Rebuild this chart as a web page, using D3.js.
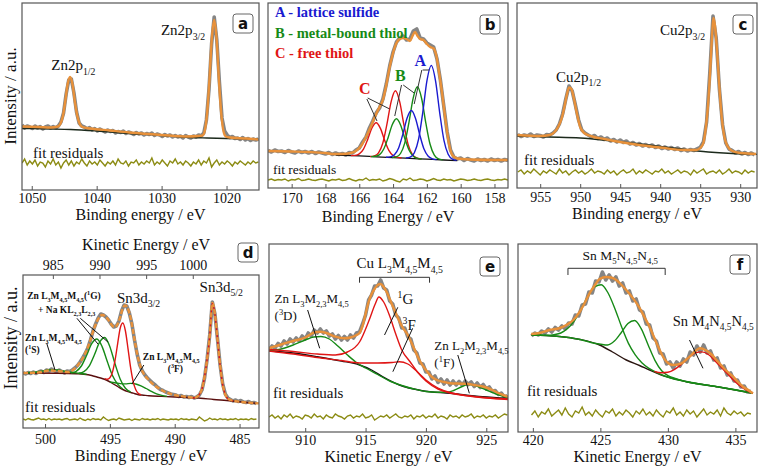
<!DOCTYPE html>
<html><head><meta charset="utf-8">
<script src="https://cdn.jsdelivr.net/npm/d3@7"></script>
<style>
body{margin:0;background:#fff}
svg{display:block}
text{font-family:"Liberation Serif","DejaVu Serif","Noto Serif",serif !important;fill:#111}
text.sans{font-family:"DejaVu Sans","Liberation Sans",Arial,sans-serif !important}
</style>
</head><body>
<svg id="chart" width="760" height="468" font-family="Liberation Serif"></svg>
<script>
// ---------------- DATA (intensities in a.u., energies in eV) ----------------
// Panel a : Zn 2p
const aTicks = [1050, 1040, 1030, 1020];
const aRawStart = 1051.5, aRawStep = -0.4;
const aRaw = [65,62,64,63,61.5,64,62,63.5,61,63,64,62,63.5,62,64,68,77,96,110,111,97,78,67,64,63,61,62.5,60,61.5,59,61,59.5,58,60,58.5,59.5,57,58.5,57.5,59,56.5,58,57,55.5,57.5,56,57,55,56.5,55.5,57,54.5,56,55,53.5,55.5,54,55,53,54.5,53,54,52,54.5,53,52,54,53,55,54,57,70,101,146,173,150,108,72,59,55,52.5,53.5,51.5,52,50.5,52.5,50,51.5,49.5,51,50,51];
const aFit = [[1051.5,63.5],[1049,63],[1047,62.5],[1046,63.5],[1045.6,66],[1045.2,74],[1044.85,88],[1044.47,106],[1044.1,113],[1043.73,106],[1043.35,88],[1042.98,74],[1042.6,66],[1042.2,63],[1041,61.5],[1038,59.5],[1035,57.5],[1030,55],[1026,53.5],[1024.4,54],[1023.7,54.5],[1023.34,59.5],[1022.98,77.5],[1022.62,111.5],[1022.26,152],[1021.9,170],[1021.54,152],[1021.18,111],[1020.82,77],[1020.46,58.5],[1020.1,53.5],[1019.5,52.5],[1017,51.5],[1015.1,50.5]];
const aBackground = [[1051.5,61.5],[1047,61],[1044,60.5],[1040,59],[1035,56.5],[1030,54.5],[1027,53],[1023,52],[1020,51.5],[1015.1,51]];
const aResidual = [27,31,25,29,26,30,24,28,27,23,29,26,31,25,28,22,27,30,25,29,24,28,26,31,27,24,29,26,28,25,30,27,24,28,26,29,25,31,27,26,29,24,28,27,30,25,28,26,29,27,32,25,28,26,30,27,24,29,27,31,26,28,25,29,27,24,28,26,30,25,29,27,32,23,27,30,25,28,26,29,27,24,28,26,29,27,25,28,26,29,27,28];

// Panel b : S 2p
const bTicks = [170, 168, 166, 164, 162, 160, 158];
const bRawStart = 171.4, bRawStep = -0.2;
const bRaw = [37.5,36,38,36.5,37,35.5,37.5,36,35,37,35.5,36.5,35,36.5,34.5,36,35,34,35.5,33.5,35,33.5,34.5,33,35.5,35,38,40,46,51,60,67,75,80,89,104,122,136,146,150,152,148,149,157,159,150,149,145,143,141,129,108,82,56,38,31,29,30,27.5,29.5,28,27,29,27.5,28.5,27,29,27.5,28.5,27,28.5,27.5];
const bFit = [[171.4,37],[170,36.5],[169,36],[168,35],[167.5,34],[167,34],[166.5,35],[166.2,37],[165.9,42],[165.6,51],[165.3,62],[165.0,74],[164.8,81],[164.6,88],[164.4,103],[164.2,121],[164.0,135],[163.8,145],[163.6,149],[163.4,150],[163.2,149],[163.0,147],[162.85,152],[162.7,156],[162.55,152],[162.4,149],[162.2,148],[162.0,144],[161.8,141],[161.6,139.5],[161.45,133],[161.3,118],[161.1,95],[160.9,68],[160.7,45],[160.5,33],[160.2,29.5],[159.5,28.5],[158,28],[157.2,28]];
const bBackground = [[167.4,33],[166,32.1],[165,31.2],[164,30.4],[163,29.6],[162,28.8],[161,28.0],[160.2,27.4]];
const bLatticeA1 = [[160.24,27.6],[160.49,28.8],[160.74,33.7],[160.99,47.7],[161.24,75.2],[161.49,107.4],[161.74,122.6],[161.99,107.8],[162.24,76],[162.49,48.9],[162.74,35.3],[162.99,30.8],[163.24,30]];
const bLatticeA2 = [[161.42,28.4],[161.67,29.1],[161.92,31.7],[162.17,38.9],[162.42,53.1],[162.67,69.6],[162.92,77.5],[163.17,70],[163.42,53.9],[163.67,40.1],[163.92,33.3],[164.17,31.1],[164.42,30.8]];
const bBoundB1 = [[161.06,28.1],[161.31,29.1],[161.56,32.9],[161.81,43.7],[162.06,64.8],[162.31,89.5],[162.56,101.2],[162.81,89.9],[163.06,65.6],[163.31,44.9],[163.56,34.5],[163.81,31.1],[164.06,30.5]];
const bBoundB2 = [[162.3,29.0],[162.55,29.7],[162.8,31.8],[163.05,37.8],[163.3,49.3],[163.55,62.8],[163.8,69.2],[164.05,63.2],[164.3,50.1],[164.55,39],[164.8,33.4],[165.05,31.7],[165.3,31.4]];
const bFreeC1 = [[162.36,29.0],[162.61,30.1],[162.86,33.6],[163.11,43.6],[163.36,63.3],[163.61,86.3],[163.86,97.2],[164.11,86.7],[164.36,64.1],[164.61,44.8],[164.86,35.2],[165.11,32.1],[165.36,31.4]];
const bFreeC2 = [[163.5,30.0],[163.75,30.6],[164.0,32.5],[164.25,37.7],[164.5,47.8],[164.75,59.6],[165.0,65.2],[165.25,60],[165.5,48.6],[165.75,38.9],[166.0,34.1],[166.25,32.6],[166.5,32.4]];
const bResidual = [8,9,7.5,8.5,8,9,7,8.5,8,9.5,7.5,8,9,8,7.5,8.5,9,8,7,8.5,8,9,7.5,8,9.5,8,7,8.5,8,10,7.5,8.5,8,9,7,8,9.5,8.5,7,6,9,8,10,7.5,8,9,8.5,7,8,9.5,8,7.5,9,8,8.5,7,8,9,8.5,7.5,8,9,8,7.5,8.5,9,8,7.5,8.5,8,9,8];
const bLegend = ["A - lattice sulfide", "B - metal-bound thiol", "C - free thiol"];

// Panel c : Cu 2p
const cTicks = [955, 950, 945, 940, 935, 930];
const cRawStart = 957.8, cRawStep = -0.4;
const cRaw = [53.5,51.5,53,52,54,51.5,53,52.5,51,53.5,53,55,58,64,74,89,102,97,83,68,58,55,53,51,52.5,49.5,51,48.5,50,47,48.5,46,48,45.5,47,44,45.5,43,44.5,42,43.5,41.5,43,40.5,42,39.5,41,39,40.5,38.5,40,37.5,39,37,38.5,37.5,39,40.5,46,66,115,172,150,99,63,45,39,37.5,35,36.5,34,35.5,33.5,35,33];
const cFit = [[957.9,53],[955,52],[953.8,53],[953.2,56],[952.7,62],[952.3,70],[952.0,80],[951.7,92],[951.4,100.5],[951.1,99],[950.8,90],[950.4,74],[950.0,61],[949.5,55],[948.5,51.5],[947,49],[945,46],[943,43.5],[940,40.5],[937,38],[935.5,38],[935,40],[934.6,45],[934.3,60],[934.0,85],[933.7,125],[933.5,155],[933.35,170],[933.2,165],[932.9,138],[932.6,100],[932.3,70],[932.0,52],[931.6,42],[931.0,37],[930,35],[928,34]];
const cBackground = [[957.9,52],[954,51],[950,50],[946,47],[942,43.5],[938,39.5],[934,36],[931,34.5],[927.9,33.7]];
const cResidual = [16,18,14,17,15,19,16,13,17,15,18,16,14,19,15,17,13,16,18,15,17,14,16,19,15,17,16,14,18,15,17,13,16,18,15,16,19,14,17,15,18,16,14,17,16,19,15,17,14,16,18,15,17,16,13,18,15,17,19,14,16,17,15,18,14,16,19,15,17,16,14,18,15,17,16];

// Panel d : Sn 3d + Zn LMM
const dTicks = [500, 495, 490, 485];
const dKineticTicks = [985, 990, 995, 1000];
const dRawStart = 501.7, dRawStep = -0.2;
const dRaw = [55.5,54,55.5,54.5,56,54.5,56,57,55.5,58,57,59,57.5,56,58,56.5,55,57,56.5,58,60,62.5,66,70,74.5,80,88,97,104,110,114,113,111,108,104,101,102,107,117,123,122,115,104,88,74,63,57,53,50,47.5,45,43,40.5,38.5,37.5,36,35,34,33.5,33,31.5,32.5,31,31.5,30.5,31.5,30,31,33,38,50,69,93,126,114,89,63,44,34,30,28.5,27,28,26.5,27.5,26,25.5,26.5,25,25.5,24.5];
const dFit = [[501.7,55],[500.5,55.5],[499.6,57.5],[499.0,57],[498.2,56],[497.8,58.5],[497.4,64],[497.0,72],[496.6,84],[496.2,100],[495.9,109],[495.6,113],[495.3,111],[495.0,106],[494.8,102],[494.6,101],[494.4,104],[494.2,111],[494.0,120],[493.8,122.5],[493.6,119],[493.4,110],[493.2,96],[493.0,81],[492.8,68.5],[492.6,60],[492.4,54.5],[492.0,48],[491.6,43],[491.2,39.5],[490.8,36.5],[490.4,34.5],[490.0,33],[489.0,31],[488.5,30.3],[488.3,31],[488.1,33.5],[487.9,39],[487.7,51],[487.5,69],[487.3,92],[487.1,125],[486.9,114],[486.7,89],[486.5,63],[486.3,43.5],[486.1,33.5],[485.9,29.5],[485.7,28],[485.0,26.3],[484.0,25],[483.5,24.6]];
const dBackground = [[501.7,55],[499,54.8],[497.6,54.3],[497.0,53.8],[496.4,52.5],[496.0,51],[495.6,49.5],[495.2,47.5],[494.8,44.5],[494.4,41.5],[494.0,38.5],[493.6,36.3],[493.2,34.8],[492.8,33.3],[492.4,32.8],[492.0,32.3],[491.0,31.6],[490.0,31],[489.0,30.5],[488.0,29.8],[487.0,28.5],[486.0,27.5],[485.0,26.3],[484.0,25],[483.5,24.6]];
const dSn3d52 = [[488.7,30.1],[488.5,30.2],[488.3,31],[488.1,33.3],[487.9,38.8],[487.7,50.8],[487.5,68.8],[487.3,91.8],[487.1,125],[486.9,113.8],[486.7,88.8],[486.5,62.8],[486.3,43.3],[486.1,33.3],[485.9,29.3],[485.7,27.8],[485.5,27.3]];
const dSn3d32 = [[495.4,49.3],[495.2,48.7],[495.0,50.2],[494.8,55.9],[494.6,67.8],[494.4,84.4],[494.2,100],[494.0,105],[493.8,97],[493.6,79.2],[493.4,60.3],[493.2,46.2],[493.0,38.2],[492.8,34.5],[492.6,33.3]];
const dZn1G = [[498.0,55.0],[497.6,56.7],[497.2,62],[496.8,72.5],[496.4,84.4],[496.0,89],[495.6,81.4],[495.2,66.5],[494.8,52.5],[494.4,43.9],[494.0,39]];
const dNaKLL = [[497.4,54.7],[497.0,56.4],[496.6,61.8],[496.2,73],[495.8,85.6],[495.4,90.5],[495.0,81.3],[494.6,64],[494.2,48.8],[493.8,39.8],[493.4,36]];
const dZn1S = [[501.4,55.2],[500.8,55.8],[500.2,57],[499.8,58],[499.4,58.4],[499.0,58],[498.6,57],[498.0,55.8],[497.4,54.8],[496.8,53.8]];
const dZn3F = [[495.0,46],[494.6,45.3],[494.2,44.4],[493.8,44.1],[493.4,44.6],[493.0,44],[492.6,42.1],[492.2,39.5],[491.8,36.6],[491.4,34.2],[491.0,32.6],[490.6,31.6]];
const dResidual = [9,8,9.5,8.5,8,9,10,8.5,9,8,9.5,8,9,8.5,9,8,9,9.5,8,8.5,9,8,10,8.5,7.5,9,8,9.5,8.5,9,8,11,9,7.5,8.5,9,8,10,9,8,8.5,9,7.5,9,8.5,8,9.5,8.5,9,8,9,8.5,9.5,8,9,8.5,8,9,8.5,9,8,9.5,8.5,9,8,9,8.5,8,11,9,7,8,10,8.5,9,8,9.5,8.5,9,8,9,8.5,9.5,8,9,8.5,9,8,9.5,8.5,9];

// Panel e : Cu LMM
const eTicks = [910, 915, 920, 925];
const eRawStart = 907.0, eRawStep = 0.25;
const eRaw = [82,86,84,88.5,86,91,88,93,90,94,91,96,93,99,96,102,99,103,99,101,96,98,93,96.5,92,95.5,92,97,94,99,100,108,117,132,137,146,146,152,144,142,131,128,117,114,104,104,95,93,82,79,69,68,60,60,53,56,49.5,53,48,52,47,51,47,50.5,47,51,47.5,50,45.5,49,44.5,47.5,43,45,40.5,41.5,37.5,39,35,36.5];
const eFit = [[907,83.7],[908,87.5],[909,91],[910,94.5],[910.75,99.5],[911.25,100.3],[911.75,99],[912.5,95.3],[913.25,93.7],[913.75,94.5],[914.25,97],[914.5,99],[914.75,106],[915,118],[915.25,130],[915.5,138],[915.75,143],[916,147],[916.25,148],[916.5,145],[916.75,140],[917,133],[917.5,119],[918,106],[918.5,97],[919,84],[919.5,71],[920,62],[920.5,55],[921,51.5],[921.5,50],[922,48.7],[923,48.3],[923.5,48],[924,47],[924.5,46],[925,44.5],[925.5,42],[926,39],[926.5,36.5],[926.8,35.3]];
const eBackground = [[907,81.3],[909,79],[911,75.3],[913,71],[914.5,67],[915.5,62],[916.4,55.3],[917.8,47],[919.7,41.3],[922,38.7],[924.7,35.3],[926.8,33.7]];
const eZnLMM = [[907,81.5],[908,83],[909,87],[910,92],[910.7,95],[911.3,95.5],[912,93],[912.7,86],[913.5,77],[914.3,69],[915,64],[916,57.5],[917,51],[918,46.5],[919,43],[920,40.5],[921,39.8],[921.7,39.8],[922.3,41.5],[923,45.5],[923.5,47.5],[924.2,46],[925,42],[925.8,38],[926.8,34.5]];
const eCu1G = [[907,82.5],[909,80.5],[911,78],[912.5,77],[913.5,80],[914.5,90],[915.3,112],[915.8,128],[916.1,135],[916.5,130],[917,116],[917.5,98],[918,82],[918.7,70],[919.3,60],[920,51],[921,43],[922,39],[924,35.5],[926.8,33]];
const eCu3F = [[907,81],[909,78],[911,74.5],[913,71.5],[914.5,69],[916,69],[917.2,69.5],[917.8,70.3],[918.5,68],[919.3,60],[920,52],[921,44],[922,39.5],[923,37],[925,34],[926.8,32.5]];
const eResidual = [15,17,14,16,13,17,15,18,14,16,15,13,17,16,14,18,15,16,13,17,15,14,18,16,15,13,16,17,14,16,15,18,14,15,17,12,14,16,15,17,14,16,18,15,14,16,15,17,13,16,15,17,14,16,15,18,14,16,15,13,17,15,16,14,17,15,16,18,14,16,15,17,14,16,15,17,14,16,18,17];

// Panel f : Sn MNN
const fTicks = [420, 425, 430, 435];
const fRawStart = 419.9, fRawStep = 0.25;
const fRaw = [96,99,97,101,99,103,100,104.5,102,106,103,109,108,117,116,127,128,140,139,151,150,160,152,157,151,155,146,149,139,141,131,133,122,120,108,107,94,91,79,78,68,70,64,70,66,73,70,80,77,86,80,87,79,81,72,74,64,66,57,59,51,52,45,46,40,41];
const fFit = [[419.88,98],[420.5,99],[421.24,102],[422.0,104],[422.48,107],[423.0,112],[423.46,120],[423.8,128],[424.2,138.7],[424.6,147],[424.94,153],[425.44,155],[425.8,154.5],[426.18,152],[426.5,148],[426.92,142],[427.4,134],[427.91,124],[428.3,114],[428.65,105],[429.0,94],[429.39,82],[429.65,75],[429.89,70.5],[430.38,67],[431.0,68.7],[431.37,72.5],[431.74,77],[432.0,80.5],[432.36,83.7],[432.85,81.5],[433.2,78],[433.6,72],[434.2,63],[434.83,55.3],[435.2,50],[435.57,45.3],[436.0,41.5],[436.3,38.7]];
const fBackground = [[419.9,97],[421,96.5],[422.48,94.7],[423.5,92.5],[424.94,87],[425.9,80],[426.92,72],[427.9,66.5],[428.65,62],[429.89,55.3],[431.37,50.3],[433.6,45.3],[435,42],[436.3,38.7]];
const fM5a = [[419.9,97],[421.07,96.8],[421.57,97.4],[422.07,99],[422.57,103.4],[423.07,111.2],[423.57,122.7],[424.07,135.3],[424.57,145],[425.07,147.3],[425.57,139],[426.07,123.6],[426.57,105.3],[427.07,88.9],[427.57,77.4],[428.07,69.3],[428.57,63.9],[429.07,60.1],[429.57,57],[431.37,50.3],[433.6,45.3],[435,42],[436.3,38.7]];
const fM5b = [[419.9,97],[421,96.5],[422.48,94.7],[423.5,92.5],[424.54,88.8],[425.04,87.7],[425.54,87],[426.04,90.9],[426.54,99.3],[427.04,108.4],[427.54,111.5],[428.04,102.9],[428.54,87],[429.04,71.7],[429.54,61.3],[430.04,56.2],[430.54,53.5],[431.37,50.5],[433.6,45.5],[435,42.2],[436.3,38.9]];
const fM4 = [[429.0,60.7],[429.5,59.2],[430.0,59.7],[430.5,62.6],[431.0,67.8],[431.5,73.9],[432.0,78.8],[432.5,80.1],[433.0,77.5],[433.5,71],[434.0,64],[434.5,57],[435.0,50],[435.5,44.5],[436.0,40.5],[436.3,39]];
const fResidual = [17,21,15,20,18,23,16,19,22,17,24,18,15,21,19,25,17,20,16,22,18,15,21,19,23,16,20,17,22,19,15,21,18,23,17,20,16,22,18,15,21,19,24,17,20,16,22,18,21,15,19,23,17,20,18,22,16,24,19,17,21,18,20,16,19,18];

// ---------------- STYLE / LAYOUT ----------------
const C = {raw:"#858585", fit:"#e8913a", res:"#8c8c14", blue:"#1a1ad0", green:"#168a16", red:"#e01515", bg:"#1c2a1c", frame:"#555"};
const svg = d3.select("#chart");

function rich(sel, x, y, parts, size, opts = {}) {
  const t = sel.append("text").attr("x", x).attr("y", y).attr("font-size", size);
  if (opts.anchor) t.attr("text-anchor", opts.anchor);
  if (opts.weight) t.attr("font-weight", opts.weight);
  if (opts.fill) t.style("fill", opts.fill);
  let shift = 0;
  parts.forEach(p => {
    const txt = typeof p === "string" ? p : p[0];
    const kind = typeof p === "string" ? "n" : p[1];
    const target = kind === "sub" ? size * 0.3 : kind === "sup" ? -size * 0.38 : 0;
    const ts = t.append("tspan").attr("dy", target - shift).text(txt);
    if (kind !== "n") ts.attr("font-size", size * 0.65);
    shift = target;
  });
  return t;
}

function drawPanel(p) {
  const g = svg.append("g");
  const b = p.box;
  const x = d3.scaleLinear().domain(p.xDomain).range([b.x, b.x + b.w]);
  const y = d3.scaleLinear().domain([0, b.h]).range([b.y + b.h, b.y]);
  const clipId = "clip" + p.letter;
  svg.append("clipPath").attr("id", clipId).append("rect").attr("x", b.x).attr("y", b.y).attr("width", b.w).attr("height", b.h);
  const plot = g.append("g").attr("clip-path", `url(#${clipId})`);
  const smooth = d3.line().x(d => x(d[0])).y(d => y(d[1])).curve(d3.curveMonotoneX);
  const rawLine = d3.line().x((d, i) => x(p.raw.start + i * p.raw.step)).y(d => y(d));
  plot.append("path").attr("d", rawLine(p.res)).attr("fill", "none").attr("stroke", C.res).attr("stroke-width", 1.4);
  plot.append("path").attr("d", rawLine(p.raw.vals)).attr("fill", "none").attr("stroke", C.raw).attr("stroke-width", 3.6).attr("stroke-linejoin", "round");
  p.lines.forEach(l => {
    plot.append("path").attr("d", smooth(l.pts)).attr("fill", "none").attr("stroke", l.color).attr("stroke-width", l.width || 1.4);
  });
  const fp = plot.append("path").attr("d", smooth(p.fit)).attr("fill", "none").attr("stroke", C.fit).attr("stroke-width", 2.4);
  if (p.fitDash) fp.attr("stroke-dasharray", p.fitDash);
  g.append("rect").attr("x", b.x).attr("y", b.y).attr("width", b.w).attr("height", b.h).attr("fill", "none").attr("stroke", C.frame).attr("stroke-width", 1.2);
  const ax = g.append("g").attr("transform", `translate(0,${b.y + b.h})`)
    .call(d3.axisBottom(x).tickValues(p.ticks).tickFormat(d3.format("d")).tickSizeInner(-4).tickSizeOuter(0).tickPadding(p.tickPad));
  ax.select(".domain").remove();
  ax.selectAll("line").attr("stroke", C.frame);
  ax.selectAll("text").attr("font-size", 14).style("fill", "#111");
  g.append("text").attr("x", b.x + b.w / 2).attr("y", p.titleY).attr("text-anchor", "middle").attr("font-size", 16).text(p.title);
  g.append("text").attr("x", b.x + p.resLabel[0]).attr("y", b.y + b.h - p.resLabel[1]).attr("font-size", p.resLabel[2]).text("fit residuals");
  const lb = p.letterBox;
  g.append("rect").attr("x", lb[0]).attr("y", lb[1]).attr("width", 20).attr("height", 19).attr("rx", 3).attr("fill", "#fff").attr("stroke", "#666").attr("stroke-width", 1);
  g.append("text").attr("class", "sans").attr("x", lb[0] + 10).attr("y", lb[1] + 14.5).attr("text-anchor", "middle").attr("font-size", 15).attr("font-weight", "bold").text(p.letter);
  if (p.extra) p.extra(g, x, y);
}

function seg(g, x, y, a, b2, color = "#111") {
  g.append("line").attr("x1", x(a[0])).attr("y1", y(a[1])).attr("x2", x(b2[0])).attr("y2", y(b2[1])).attr("stroke", color).attr("stroke-width", 1);
}
function bracket(g, x, y, x0, x1, yy, drop) {
  g.append("path").attr("d", `M${x(x0)},${y(yy - drop)}V${y(yy)}H${x(x1)}V${y(yy - drop)}`).attr("fill", "none").attr("stroke", "#333").attr("stroke-width", 1);
}
const LMM45 = ["M", ["4,5", "sub"], "M", ["4,5", "sub"]];

drawPanel({
  letter: "a", box: {x: 22, y: 3, w: 237, h: 187}, xDomain: [1051.5, 1015], ticks: aTicks, tickPad: 3,
  title: "Binding energy / eV", titleY: 220, raw: {start: aRawStart, step: aRawStep, vals: aRaw}, res: aResidual,
  fit: aFit, lines: [{pts: aBackground, color: C.bg, width: 1.3}], resLabel: [11, 32, 15], letterBox: [233, 14],
  extra: (g, x, y) => {
    rich(g, x(1043.6), y(120), ["Zn2p", ["1/2", "sub"]], 15, {anchor: "middle"});
    rich(g, x(1026.7), y(155), ["Zn2p", ["3/2", "sub"]], 15, {anchor: "middle"});
  }
});
drawPanel({
  letter: "b", box: {x: 268, y: 3, w: 240, h: 185}, xDomain: [171.4, 157.2], ticks: bTicks, tickPad: 5,
  title: "Binding Energy / eV", titleY: 222, raw: {start: bRawStart, step: bRawStep, vals: bRaw}, res: bResidual,
  fit: bFit, resLabel: [5, 14, 13.5], letterBox: [480, 15],
  lines: [{pts: bBackground, color: "#111", width: 1.3},
    {pts: bFreeC2, color: C.red}, {pts: bFreeC1, color: C.red},
    {pts: bBoundB2, color: C.green}, {pts: bBoundB1, color: C.green},
    {pts: bLatticeA2, color: C.blue}, {pts: bLatticeA1, color: C.blue}],
  extra: (g, x, y) => {
    const cols = [C.blue, C.green, C.red];
    bLegend.forEach((t, i) => g.append("text").attr("x", 275).attr("y", 17 + i * 20.5).attr("font-size", 14.5).attr("font-weight", "bold").style("fill", cols[i]).text(t));
    g.append("text").attr("x", x(162.39)).attr("y", y(122.3)).attr("text-anchor", "middle").attr("font-size", 16).attr("font-weight", "bold").style("fill", C.blue).text("A");
    g.append("text").attr("x", x(163.57)).attr("y", y(107)).attr("text-anchor", "middle").attr("font-size", 16).attr("font-weight", "bold").style("fill", C.green).text("B");
    g.append("text").attr("x", x(165.67)).attr("y", y(93.7)).attr("text-anchor", "middle").attr("font-size", 16).attr("font-weight", "bold").style("fill", C.red).text("C");
    seg(g, x, y, [162.25, 118], [161.85, 118], "#333");
    seg(g, x, y, [162.3, 118], [162.75, 84], "#333");
    seg(g, x, y, [163.4, 103], [162.75, 95], "#333");
    seg(g, x, y, [163.5, 103], [163.9, 72], "#333");
    seg(g, x, y, [165.5, 90], [164.2, 79], "#333");
    seg(g, x, y, [165.55, 89], [164.95, 67], "#333");
  }
});
drawPanel({
  letter: "c", box: {x: 517, y: 3, w: 240, h: 185}, xDomain: [957.9, 927.9], ticks: cTicks, tickPad: 4,
  title: "Binding energy / eV", titleY: 219, raw: {start: cRawStart, step: cRawStep, vals: cRaw}, res: cResidual,
  fit: cFit, lines: [{pts: cBackground, color: C.bg, width: 1.3}], resLabel: [7, 23, 15], letterBox: [733, 15],
  extra: (g, x, y) => {
    rich(g, x(950.2), y(106.3), ["Cu2p", ["1/2", "sub"]], 15, {anchor: "middle"});
    rich(g, x(937.2), y(153), ["Cu2p", ["3/2", "sub"]], 15, {anchor: "middle"});
  }
});
drawPanel({
  letter: "d", box: {x: 23, y: 275, w: 236, h: 153}, xDomain: [501.7, 483.5], ticks: dTicks, tickPad: 6,
  title: "Binding Energy / eV", titleY: 461, raw: {start: dRawStart, step: dRawStep, vals: dRaw}, res: dResidual,
  fit: dFit, fitDash: "5,2", resLabel: [2, 16, 15], letterBox: [238, 243],
  lines: [{pts: dBackground, color: "#5a0f0f", width: 1.4},
    {pts: dZn1S, color: C.green}, {pts: dZn1G, color: C.green}, {pts: dNaKLL, color: C.green}, {pts: dZn3F, color: C.green},
    {pts: dSn3d32, color: C.red}, {pts: dSn3d52, color: C.red}],
  extra: (g, x, y) => {
    const top = d3.scaleLinear().domain([981.8, 1007.1]).range([23, 259]);
    const at = g.append("g").attr("transform", "translate(0,275)")
      .call(d3.axisTop(top).tickValues(dKineticTicks).tickFormat(d3.format("d")).tickSizeInner(-4).tickSizeOuter(0).tickPadding(5));
    at.select(".domain").remove();
    at.selectAll("line").attr("stroke", C.frame);
    at.selectAll("text").attr("font-size", 14).style("fill", "#111");
    g.append("text").attr("x", 146).attr("y", 250).attr("text-anchor", "middle").attr("font-size", 16).text("Kinetic Energy / eV");
    rich(g, x(494.46), y(125.3), ["Sn3d", ["3/2", "sub"]], 15);
    rich(g, x(488.08), y(136.3), ["Sn3d", ["5/2", "sub"]], 15);
    rich(g, x(501.38), y(129), ["Zn L", ["3", "sub"], ...LMM45, "(", ["1", "sup"], "G)"], 9.5, {weight: "bold"});
    rich(g, x(500.54), y(115), ["+ Na KL", ["2,3", "sub"], "L", ["2,3", "sub"]], 9.5, {weight: "bold"});
    rich(g, x(501.54), y(87), ["Zn L", ["3", "sub"], ...LMM45], 9.5, {weight: "bold"});
    rich(g, x(501.54), y(75), ["(", ["1", "sup"], "S)"], 9.5, {weight: "bold"});
    rich(g, x(492.46), y(68), ["Zn L", ["3", "sub"], ...LMM45], 9.5, {weight: "bold"});
    rich(g, x(490.54), y(56), ["(", ["3", "sup"], "F)"], 9.5, {weight: "bold"});
    seg(g, x, y, [497.54, 109.7], [495.92, 84]);
    seg(g, x, y, [497.28, 109.7], [495.15, 86]);
    seg(g, x, y, [499.87, 84.7], [499.23, 58]);
    seg(g, x, y, [492.38, 63], [493.3, 44]);
  }
});
drawPanel({
  letter: "e", box: {x: 269, y: 244, w: 239, h: 188}, xDomain: [907, 926.8], ticks: eTicks, tickPad: 3,
  title: "Kinetic Energy / eV", titleY: 462, raw: {start: eRawStart, step: eRawStep, vals: eRaw}, res: eResidual,
  fit: eFit, resLabel: [4, 34, 15], letterBox: [480, 257],
  lines: [{pts: eBackground, color: "#111", width: 1.4}, {pts: eZnLMM, color: C.green},
    {pts: eCu3F, color: C.red}, {pts: eCu1G, color: C.red}],
  extra: (g, x, y) => {
    rich(g, x(914.25), y(164), ["Cu L", ["3", "sub"], ...LMM45], 15);
    bracket(g, x, y, 914.5, 920.3, 154.7, 5.4);
    rich(g, x(907.46), y(129), ["Zn L", ["3", "sub"], "M", ["2,3", "sub"], "M", ["4,5", "sub"]], 13);
    rich(g, x(907.46), y(112), ["(", ["3", "sup"], "D)"], 13);
    seg(g, x, y, [910.2, 122], [911.2, 83.7]);
    rich(g, x(917.65), y(128), [["1", "sup"], "G"], 15);
    seg(g, x, y, [917.67, 124.7], [916.57, 97]);
    rich(g, x(918.06), y(102), [["3", "sup"], "F"], 15);
    seg(g, x, y, [918.9, 103.7], [917.26, 60.3]);
    rich(g, x(920.7), y(82), ["Zn L", ["2", "sub"], "M", ["2,3", "sub"], "M", ["4,5", "sub"]], 13);
    rich(g, x(920.7), y(65.3), ["(", ["1", "sup"], "F)"], 13);
    seg(g, x, y, [922.64, 77], [923.6, 38.7]);
  }
});
drawPanel({
  letter: "f", box: {x: 518, y: 244, w: 239, h: 188}, xDomain: [418.9, 436.6], ticks: fTicks, tickPad: 3,
  title: "Kinetic Energy / eV", titleY: 462, raw: {start: fRawStart, step: fRawStep, vals: fRaw}, res: fResidual,
  fit: fFit, resLabel: [9, 36, 15], letterBox: [730, 255],
  lines: [{pts: fBackground, color: "#2a1510", width: 1.4}, {pts: fM5a, color: C.green}, {pts: fM5b, color: C.green}, {pts: fM4, color: C.red}],
  extra: (g, x, y) => {
    rich(g, x(423.68), y(172), ["Sn M", ["5", "sub"], "N", ["4,5", "sub"], "N", ["4,5", "sub"]], 13.5);
    bracket(g, x, y, 422.6, 429.8, 163.7, 6.7);
    rich(g, x(430.36), y(106), ["Sn M", ["4", "sub"], "N", ["4,5", "sub"], "N", ["4,5", "sub"]], 14.5);
    seg(g, x, y, [431.6, 92], [432.6, 63.7]);
  }
});

svg.append("text").attr("transform", "translate(16,96) rotate(-90)").attr("text-anchor", "middle").attr("font-size", 17).text("Intensity / a.u.");
svg.append("text").attr("transform", "translate(17,338) rotate(-90)").attr("text-anchor", "middle").attr("font-size", 18).text("Intensity / a.u.");
</script>
</body></html>
